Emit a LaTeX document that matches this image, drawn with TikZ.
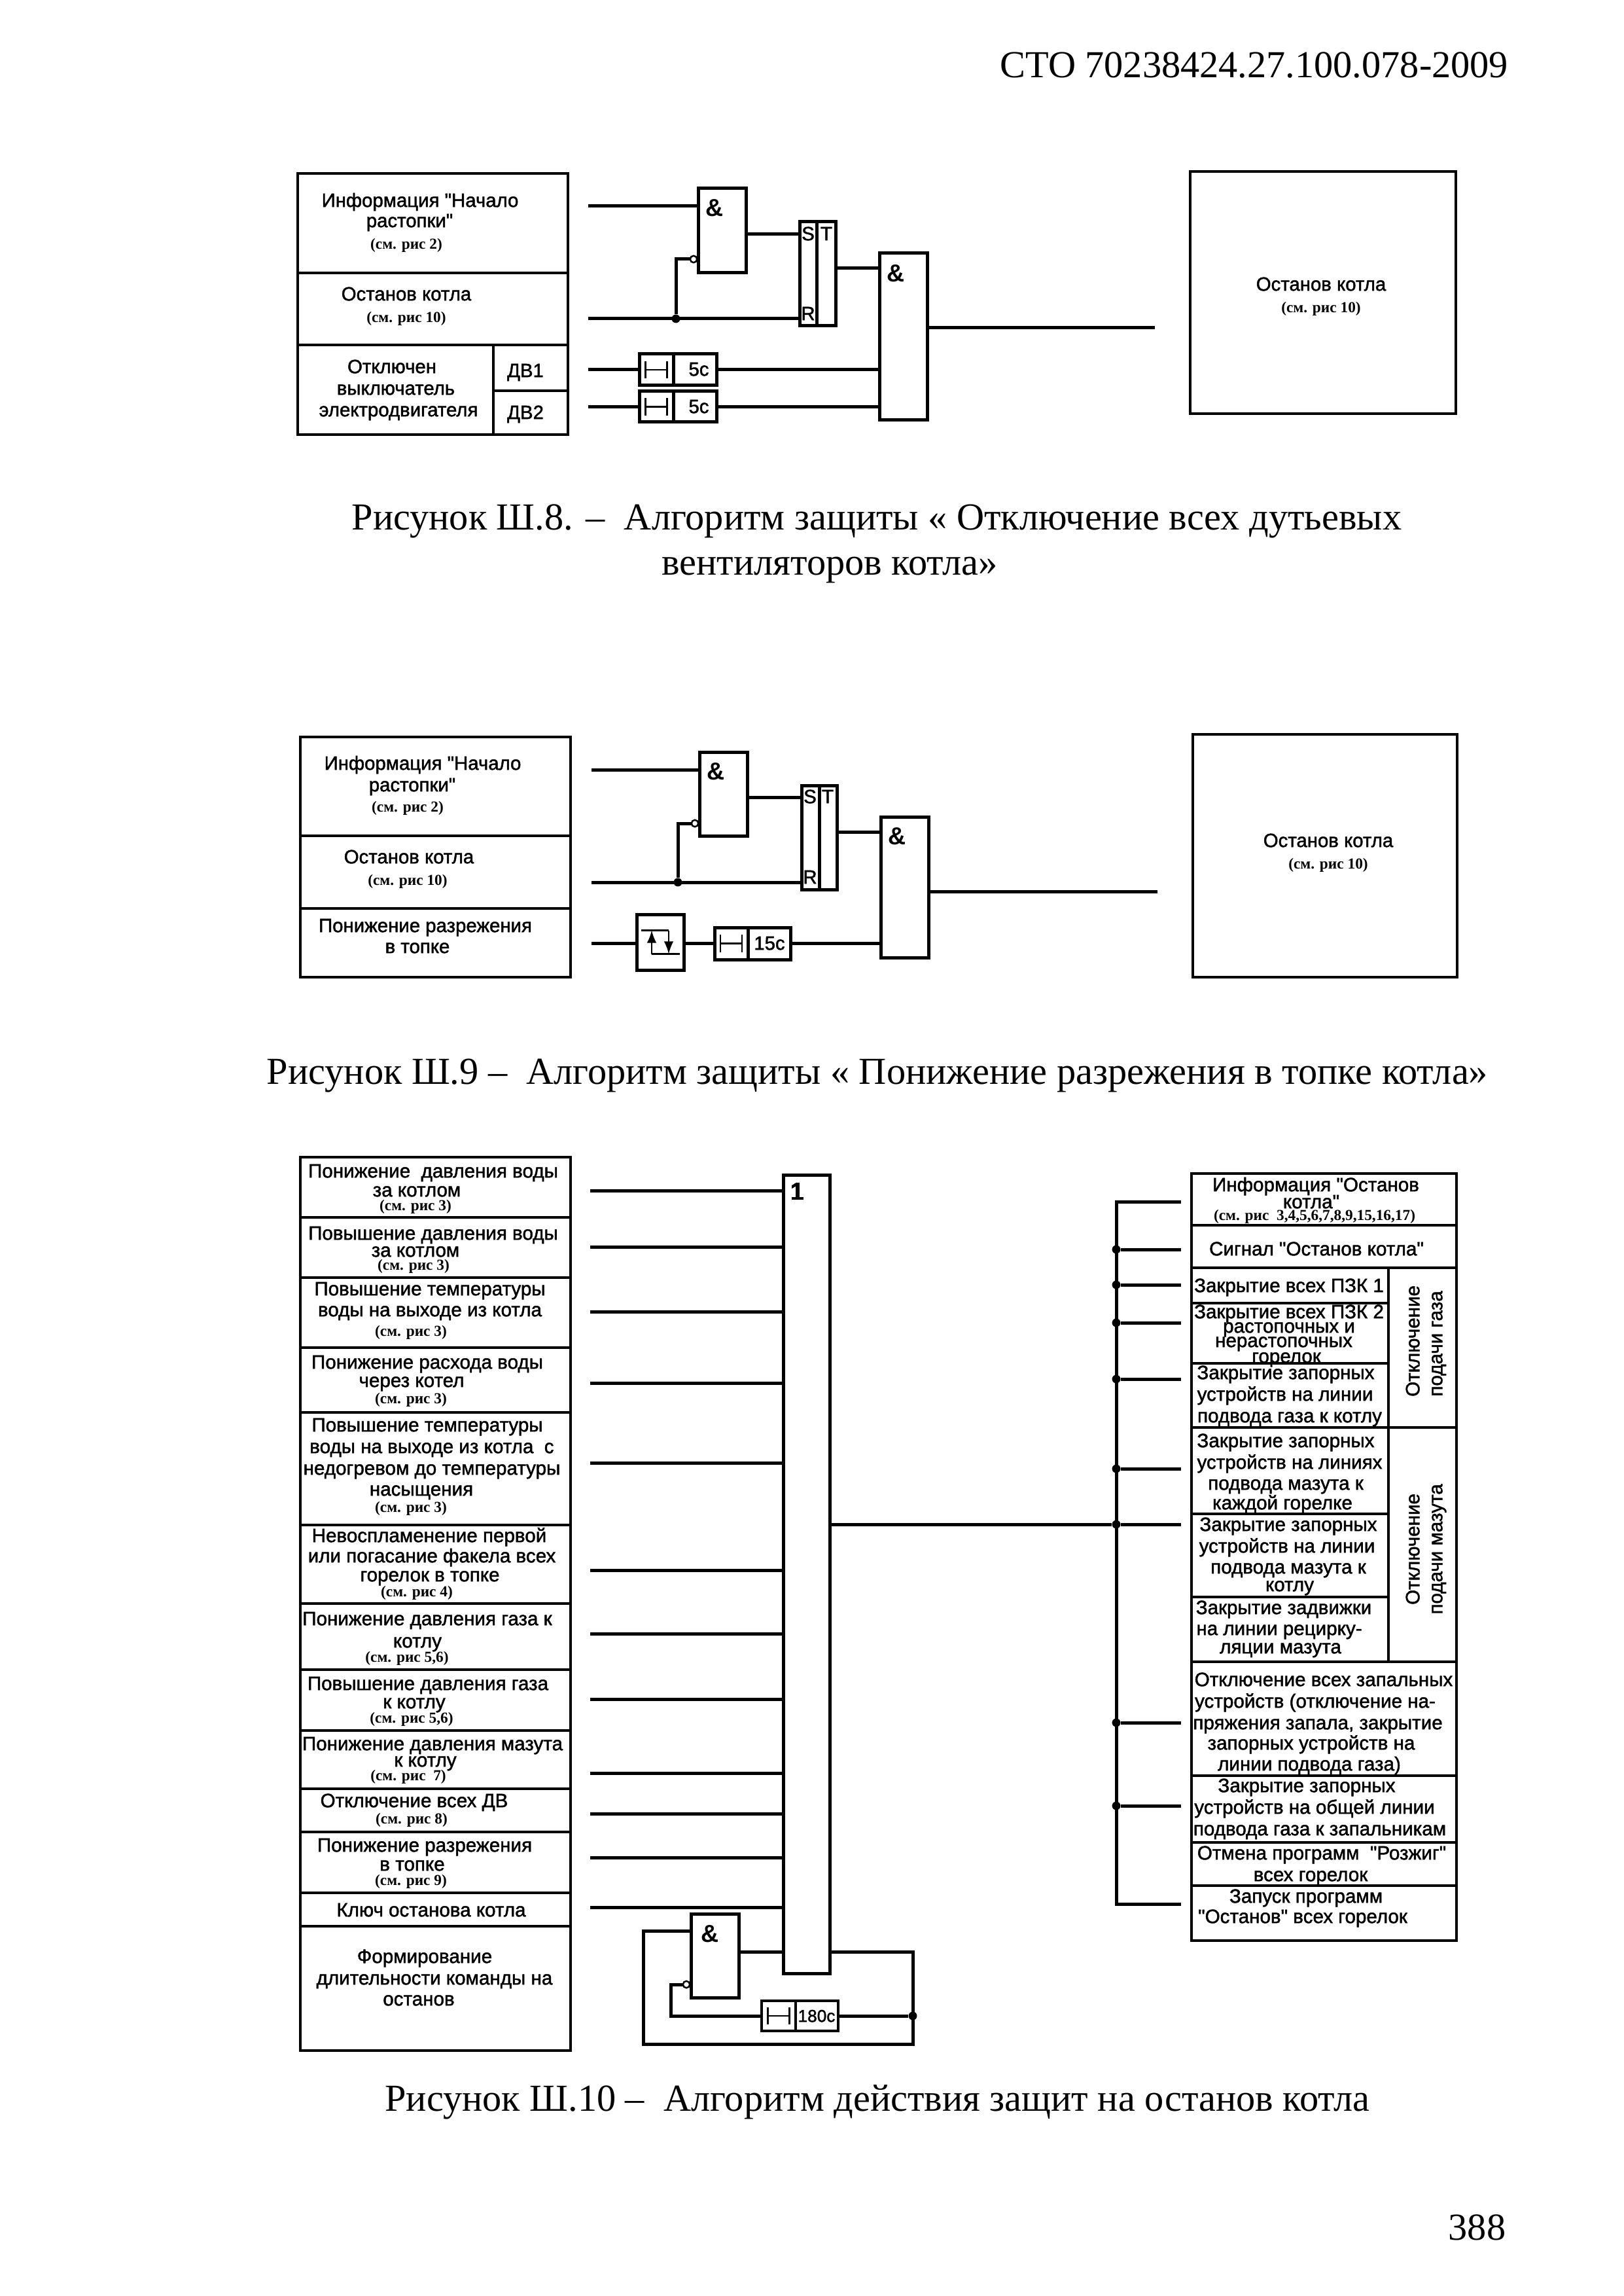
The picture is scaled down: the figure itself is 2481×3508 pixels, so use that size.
\documentclass[tikz,border=0pt]{standalone}
\usepackage{fontspec}
\usepackage{tikz}
\usetikzlibrary{shapes,arrows,positioning}
\setmainfont{Liberation Serif}
\newfontfamily\labfont[FakeBold=1.6]{Liberation Sans}
\newfontfamily\signfont{Liberation Sans}
\newcommand{\blocknode}[6]{\node[#1, minimum width={(#5-#3)*0.24pt}, minimum height={(#6-#4)*0.24pt}] (#2) at ({(#3+#5)/2},{(#4+#6)/2}) {};}
\tikzset{
	cell/.style={draw, line width=0.9pt, inner sep=0pt, outer sep=0pt},
	gate/.style={draw, line width=1.2pt, inner sep=0pt, outer sep=0pt},
	wire/.style={line width=1.2pt},
	thinwire/.style={line width=0.6pt},
	lab/.style={inner sep=0pt, yshift=-0.7pt, text height=4pt, text depth=1pt, font=\labfont\fontsize{7.05}{9}\selectfont},
	labr/.style={inner sep=0pt, yshift=-0.7pt, text height=4pt, text depth=1pt, font=\labfont\fontsize{7.1}{9}\selectfont},
	seeref/.style={inner sep=0pt, text height=3.5pt, text depth=1pt, font=\bfseries\fontsize{5.6}{7}\selectfont},
	sign/.style={inner sep=0pt, font=\signfont\bfseries\fontsize{9}{10}\selectfont},
	caption/.style={inner sep=0pt, yshift=-2pt, text height=7pt, text depth=2pt, font=\fontsize{14}{16}\selectfont},
	dotn/.style={circle, fill=black, inner sep=0pt, minimum size=3.1pt},
	invn/.style={circle, draw, fill=white, line width=0.6pt, inner sep=0pt, minimum size=2.5pt, outer sep=0pt}
}
\begin{document}
\begin{tikzpicture}[x=0.24pt, y=-0.24pt]
	\useasboundingbox (0,0) rectangle (2481,3508);
	\node[caption, anchor=east] (head) at (2306,100) {СТО 70238424.27.100.078-2009};
	\node[caption, anchor=east] (pageno) at (2302,3404) {388};

	% fig 8
	\blocknode{cell}{ac1}{455}{265}{868}{417}
	\blocknode{cell}{ac2}{455}{417}{868}{527}
	\blocknode{cell}{ac3}{455}{527}{754}{664}
	\blocknode{cell}{ac4}{754}{527}{868}{597}
	\blocknode{cell}{ac5}{754}{597}{868}{664}
	\blocknode{cell}{aout}{1819}{262}{2225}{632}
	\blocknode{gate}{aand1}{1067}{288}{1140}{417}
	\blocknode{gate}{ars1}{1222}{339}{1248}{498}
	\blocknode{gate}{ars2}{1248}{339}{1277}{498}
	\blocknode{gate}{aand2}{1344}{387}{1417}{642}
	\blocknode{gate}{at1a}{977}{541}{1029}{589}
	\blocknode{gate}{at1b}{1029}{541}{1095}{589}
	\blocknode{gate}{at2a}{977}{598}{1029}{645}
	\blocknode{gate}{at2b}{1029}{598}{1095}{645}
	\node[invn] (ainv) at (1060,396) {};
	\node[dotn] (ajn) at (1033,487) {};
	\coordinate (ain1) at (899,315);
	\coordinate (ain2) at (899,487);
	\coordinate (ain3) at (899,565);
	\coordinate (ain4) at (899,622);
	\coordinate (aend) at (1765,501);
	\draw[wire] (ain1) -- (ain1 -| aand1.west);
	\draw[wire] (ain2) -- (ain2 -| ars1.west);
	\draw[wire] (ajn) |- (ainv);
	\draw[wire] (aand1.east |- 1100,358) -- (ars1.west |- 1100,358);
	\draw[wire] (ars2.east |- 1300,410) -- (aand2.west |- 1300,410);
	\draw[wire] (ain3) -- (at1a.west);
	\draw[wire] (at1b.east) -- (at1b.east -| aand2.west);
	\draw[wire] (ain4) -- (ain4 -| at2a.west);
	\draw[wire] (at2b.east) -- (at2b.east -| aand2.west);
	\draw[wire] (aand2.east |- aend) -- (aend);
	\draw[thinwire, |-|] ([xshift=-4.3pt]at1a.center) -- ([xshift=4.3pt]at1a.center);
	\draw[thinwire, |-|] ([xshift=-4.3pt]at2a.center) -- ([xshift=4.3pt]at2a.center);
	\node[sign, below right=3.8pt and 2.5pt of aand1.north west] (aamp1) {\&};
	\node[sign, below right=4pt and 2.5pt of aand2.north west] (aamp2) {\&};
	\node[lab] (as) at (1235,358) {S};
	\node[lab] (at) at (1263,358) {T};
	\node[lab] (ar) at (1235,480) {R};
	\node[lab] (at1t) at (1068,565) {5с};
	\node[lab] (at2t) at (1068,622) {5с};
	\foreach \i/\x/\y/\t in {1/642/307/{Информация "Начало},2/626/338/{растопки"},3/621/450/{Останов котла},4/599/561/{Отключен},5/605/594/{выключатель},6/609/627/{электродвигателя},7/803/567/{ДВ1},8/803/631/{ДВ2},9/2019/435/{Останов котла}}
		\node[lab] (alab\i) at (\x,\y) {\t};
	\foreach \i/\x/\y/\t in {1/621/375/{(см. рис 2)},2/621/487/{(см. рис 10)},3/2019/472/{(см. рис 10)}}
		\node[seeref] (aref\i) at (\x,\y) {\t};
	\node[caption] (acap1) at (1340,791) {Рисунок Ш.8. –~ Алгоритм защиты « Отключение всех дутьевых};
	\node[caption] (acap2) at (1268,860) {вентиляторов котла»};

	% fig 9
	\blocknode{cell}{bc1}{459}{1126}{872}{1277}
	\blocknode{cell}{bc2}{459}{1277}{872}{1388}
	\blocknode{cell}{bc3}{459}{1388}{872}{1493}
	\blocknode{cell}{bout}{1823}{1122}{2227}{1493}
	\blocknode{gate}{band1}{1069}{1149}{1142}{1277}
	\blocknode{gate}{brs1}{1225}{1200}{1252}{1359}
	\blocknode{gate}{brs2}{1252}{1200}{1279}{1359}
	\blocknode{gate}{band2}{1346}{1248}{1419}{1463}
	\blocknode{gate}{brel}{973}{1397}{1045}{1482}
	\blocknode{gate}{bt1a}{1092}{1417}{1143}{1466}
	\blocknode{gate}{bt1b}{1143}{1417}{1208}{1466}
	\node[invn] (binv) at (1062,1258) {};
	\node[dotn] (bjn) at (1036,1348) {};
	\coordinate (bin1) at (904,1176);
	\coordinate (bin2) at (904,1348);
	\coordinate (bin3) at (904,1441);
	\coordinate (bend) at (1769,1362);
	\draw[wire] (bin1) -- (bin1 -| band1.west);
	\draw[wire] (bin2) -- (bin2 -| brs1.west);
	\draw[wire] (bjn) |- (binv);
	\draw[wire] (band1.east |- 1100,1218) -- (brs1.west |- 1100,1218);
	\draw[wire] (brs2.east |- 1300,1271) -- (band2.west |- 1300,1271);
	\draw[wire] (bin3) -- (bin3 -| brel.west);
	\draw[wire] (bin3 -| brel.east) -- (bin3 -| bt1a.west);
	\draw[wire] (bin3 -| bt1b.east) -- (bin3 -| band2.west);
	\draw[wire] (band2.east |- bend) -- (bend);
	\draw[thinwire, |-|] ([xshift=-4.3pt]bt1a.center) -- ([xshift=4.3pt]bt1a.center);
	\begin{scope}[shift={(brel.center)}]
		\draw[thinwire] (-29,-18) -- (13,-18);
		\draw[thinwire] (-13,18) -- (30,18);
		\draw[thinwire, -latex] (-13,18) -- (-13,-18);
		\draw[thinwire, -latex] (13,-18) -- (13,18);
	\end{scope}
	\node[sign, below right=3.8pt and 2.5pt of band1.north west] (bamp1) {\&};
	\node[sign, below right=3.8pt and 2.5pt of band2.north west] (bamp2) {\&};
	\node[lab] (bs) at (1238,1218) {S};
	\node[lab] (bt) at (1265,1218) {T};
	\node[lab] (br) at (1238,1341) {R};
	\node[lab] (bt1t) at (1176,1442) {15с};
	\foreach \i/\x/\y/\t in {1/646/1167/{Информация "Начало},2/630/1200/{растопки"},3/625/1310/{Останов котла},4/650/1415/{Понижение разрежения},5/638/1447/{в топке},6/2030/1285/{Останов котла}}
		\node[lab] (blab\i) at (\x,\y) {\t};
	\foreach \i/\x/\y/\t in {1/623/1235/{(см. рис 2)},2/623/1347/{(см. рис 10)},3/2030/1322/{(см. рис 10)}}
		\node[seeref] (bref\i) at (\x,\y) {\t};
	\node[caption] (bcap) at (1341,1638) {Рисунок Ш.9 –~~Алгоритм защиты « Понижение разрежения в топке котла»};

	% fig 10
	\foreach \i/\ya/\yb in {1/1768/1860,2/1860/1952,3/1952/2059,4/2059/2158,5/2158/2330,6/2330/2450,7/2450/2551,8/2551/2644,9/2644/2733,10/2733/2799,11/2799/2892,12/2892/2943,13/2943/3133}
		\blocknode{cell}{cl\i}{459}{\ya}{872}{\yb}
	\blocknode{gate}{bar}{1197}{1795}{1268}{3015}
	\node[sign] (barsign) at (1219,1821) {1};
	\foreach \i/\y in {1/1819,2/1905,3/2004,4/2113,5/2235,6/2399,7/2496,8/2596,9/2709,10/2771,11/2838,12/2914}{
		\coordinate (cin\i) at (902,\y);
		\draw[wire] (cin\i) -- (cin\i -| bar.west);
	}
	\blocknode{gate}{cand}{1056}{2924}{1129}{3052}
	\blocknode{cell}{ct1a}{1164}{3057}{1216}{3103}
	\blocknode{cell}{ct1b}{1216}{3057}{1281}{3103}
	\node[invn] (cinv) at (1049,3032) {};
	\node[dotn] (cjn) at (1395,3080) {};
	\coordinate (fbr) at (1395,2982);
	\coordinate (fbb) at (1395,3123);
	\coordinate (fbl) at (983,3123);
	\coordinate (fbt) at (983,2950);
	\coordinate (fbc) at (1025,3080);
	\draw[wire] (cand.east |- fbr) -- (bar.west |- fbr);
	\draw[wire] (bar.east |- fbr) -- (fbr) -- (fbb) -- (fbl) -- (fbt) -- (fbt -| cand.west);
	\draw[wire] (ct1b.east) -- (cjn);
	\draw[wire] (ct1a.west) -- (fbc) |- (cinv);
	\draw[thinwire, |-|] ([xshift=-4.3pt]ct1a.center) -- ([xshift=4.3pt]ct1a.center);
	\node[sign, below right=3.9pt and 3.5pt of cand.north west] (camp) {\&};
	\node[lab, font=\labfont\fontsize{6.3}{8}\selectfont] (ct1t) at (1248,3080) {180с};
	\foreach \i/\x/\y/\t in {1/662/1790/{Понижение~ давления воды},2/637/1819/{за котлом},3/662/1885/{Повышение давления воды},4/635/1911/{за котлом},5/657/1970/{Повышение температуры},6/657/2002/{воды на выходе из котла},7/653/2082/{Понижение расхода воды},8/629/2110/{через котел},9/653/2178/{Повышение температуры},10/660/2211/{воды на выходе из котла~ с},11/660/2244/{недогревом до температуры},12/644/2276/{насыщения},13/656/2347/{Невоспламенение первой},14/660/2378/{или погасание факела всех},15/657/2407/{горелок в топке},16/653/2474/{Понижение давления газа к},17/638/2508/{котлу},18/654/2573/{Повышение давления газа},19/633/2601/{к котлу},20/661/2665/{Понижение давления мазута},21/650/2690/{к котлу},22/633/2752/{Отключение всех ДВ},23/649/2820/{Понижение разрежения},24/630/2849/{в топке},25/659/2919/{Ключ останова котла},26/649/2990/{Формирование},27/664/3023/{длительности команды на},28/640/3055/{останов}}
		\node[labr] (clab\i) at (\x,\y) {\t};
	\foreach \i/\x/\y/\t in {1/635/1844/{(см. рис 3)},2/632/1935/{(см. рис 3)},3/628/2036/{(см. рис 3)},4/628/2139/{(см. рис 3)},5/628/2305/{(см. рис 3)},6/637/2434/{(см. рис 4)},7/622/2534/{(см. рис 5,6)},8/629/2627/{(см. рис 5,6)},9/624/2715/{(см. рис~ 7)},10/629/2781/{(см. рис 8)},11/628/2875/{(см. рис 9)}}
		\node[seeref] (cref\i) at (\x,\y) {\t};
	\foreach \i/\xa/\ya/\xb/\yb in {1/1821/1793/2226/1872,2/1821/1872/2226/1937,3/1821/1937/2122/1991,4/1821/1991/2122/2083,5/1821/2083/2122/2181,6/1821/2181/2122/2313,7/1821/2313/2122/2440,8/1821/2440/2122/2539,9/2122/1937/2226/2181,10/2122/2181/2226/2539,11/1821/2539/2226/2713,12/1821/2713/2226/2815,13/1821/2815/2226/2881,14/1821/2881/2226/2965}
		\blocknode{cell}{cr\i}{\xa}{\ya}{\xb}{\yb}
	\coordinate (busa) at (1706,1836);
	\coordinate (busb) at (1706,2909);
	\coordinate (routa) at (1805,1836);
	\coordinate (routb) at (1805,2909);
	\draw[wire] (routa) -- (busa) -- (busb) -- (routb);
	\foreach \i/\y in {1/1909,2/1963,3/2021,4/2107,5/2244,6/2329,7/2632,8/2759}{
		\node[dotn] (cdot\i) at (1706,\y) {};
		\coordinate (rout\i) at (1805,\y);
		\draw[wire] (cdot\i) -- (rout\i);
	}
	\draw[wire] (cdot6 -| bar.east) -- (cdot6);
	\foreach \i/\x/\y/\t in {1/2011/1811/{Информация "Останов},2/2004/1837/{котла"},3/2012/1909/{Сигнал "Останов котла"},4/1970/1965/{Закрытие всех ПЗК 1},5/1970/2005/{Закрытие всех ПЗК 2},6/1970/2027/{растопочных и},7/1962/2049/{нерастопочных},8/1966/2073/{горелок},9/1965/2098/{Закрытие запорных},10/1964/2131/{устройств на линии},11/1971/2164/{подвода газа к котлу},12/1965/2202/{Закрытие запорных},13/1971/2235/{устройств на линиях},14/1965/2267/{подвода мазута к},15/1960/2297/{каждой горелке},16/1969/2330/{Закрытие запорных},17/1967/2363/{устройств на линии},18/1969/2395/{подвода мазута к},19/1971/2422/{котлу},20/1962/2457/{Закрытие задвижки},21/1955/2489/{на линии рецирку-},22/1957/2517/{ляции мазута},23/2023/2567/{Отключение всех запальных},24/2010/2600/{устройств (отключение на-},25/2014/2633/{пряжения запала, закрытие},26/2004/2664/{запорных устройств на},27/2001/2696/{линии подвода газа)},28/1997/2729/{Закрытие запорных},29/2009/2762/{устройств на общей линии},30/2017/2795/{подвода газа к запальникам},31/2020/2832/{Отмена программ~ "Розжиг"},32/2003/2865/{всех горелок},33/1996/2898/{Запуск программ},34/1991/2929/{"Останов" всех горелок}}
		\node[labr] (crlab\i) at (\x,\y) {\t};
	\node[seeref] (crref) at (2009,1859) {(см. рис~ 3,4,5,6,7,8,9,15,16,17)};
	\foreach \i/\x/\y/\t in {1/2163/2046/{Отключение},2/2198/2050/{подачи газа},3/2163/2364/{Отключение},4/2198/2364/{подачи мазута}}
		\node[labr, rotate=90] (crot\i) at (\x,\y) {\t};
	\node[caption] (ccap) at (1341,3207) {Рисунок Ш.10 –~~Алгоритм действия защит на останов котла};
\end{tikzpicture}
\end{document}
